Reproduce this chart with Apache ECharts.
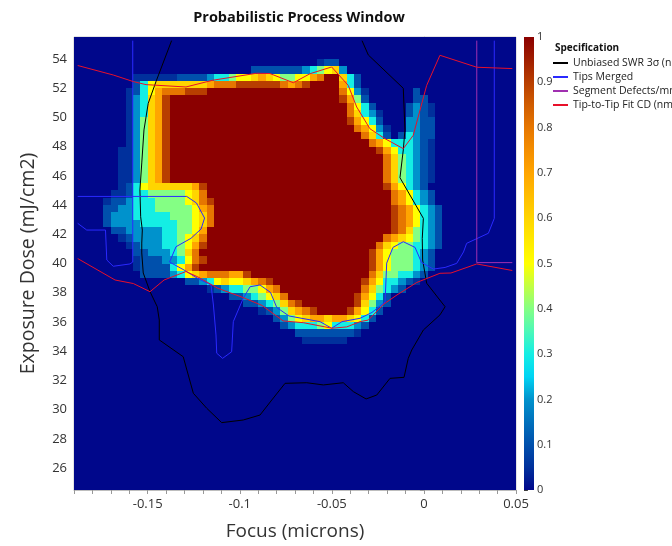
<!DOCTYPE html>
<html>
<head>
<meta charset="utf-8">
<script src="https://cdn.jsdelivr.net/npm/echarts@6/dist/echarts.min.js"></script>
<style>
html,body{margin:0;padding:0;background:#fff;}
#chart{width:672px;height:546px;}
</style>
</head>
<body>
<div id="chart"></div>
<script>
// ---- probability grid: 60 focus columns x 62 dose rows (top row first) ----
// column centres: -0.188 ... 0.048 microns, row centres: 55.25 ... 24.75 mJ/cm2
const focusFirst = -0.188, focusStep = 0.004;
const doseFirst = 55.25, doseStep = 0.5;
// level codes: '0' = 0, '.' = 0.05, '1'..'9' = 0.1..0.9, 'X' = 1
// each row is written in six groups of ten columns
const levelCode = {'0':0,'.':0.05,'1':0.1,'2':0.2,'3':0.3,'4':0.4,'5':0.5,'6':0.6,'7':0.7,'8':0.8,'9':0.9,'X':1};
const probRows = [
  "0000000000 0000000000 0000000000 0000000000 0000000000 0000000000",
  "0000000000 0000000000 0000000000 0000000000 0000000000 0000000000",
  "0000000000 0000000000 0000000000 0000000000 0000000000 0000000000",
  "0000000000 0000000000 0000000000 000.110000 0000000000 0000000000",
  "0000000000 0000000000 0000111111 1234562000 0000000000 0000000000",
  "00000000.. ....111123 3455676544 5578XX6310 0000000000 0000000000",
  "0000000013 5666666678 8899999987 89XXXX7310 0000000000 0000000000",
  "0000000.13 57888999XX XXXXXXXXXX XXXXXX852. 0000001000 0000000000",
  "0000000.23 679XXXXXXX XXXXXXXXXX XXXXXX9741 0000001100 0000000000",
  "0000000.23 679XXXXXXX XXXXXXXXXX XXXXXXX853 10000121.0 0000000000",
  "0000000.23 679XXXXXXX XXXXXXXXXX XXXXXXX863 2.000121.0 0000000000",
  "0000000.24 679XXXXXXX XXXXXXXXXX XXXXXXX975 3100022110 0000000000",
  "0000000.24 679XXXXXXX XXXXXXXXXX XXXXXXXX87 52.0022110 0000000000",
  "0000000.24 679XXXXXXX XXXXXXXXXX XXXXXXXXX8 6310132110 0000000000",
  "0000000.24 679XXXXXXX XXXXXXXXXX XXXXXXXXXX 87533321.0 0000000000",
  "000000..24 679XXXXXXX XXXXXXXXXX XXXXXXXXXX X9753321.0 0000000000",
  "000000..24 679XXXXXXX XXXXXXXXXX XXXXXXXXXX XX864321.0 0000000000",
  "000000..24 679XXXXXXX XXXXXXXXXX XXXXXXXXXX XX864321.0 0000000000",
  "000000..24 679XXXXXXX XXXXXXXXXX XXXXXXXXXX XX864321.0 0000000000",
  "000000..24 679XXXXXXX XXXXXXXXXX XXXXXXXXXX XX864321.0 0000000000",
  "000000.135 66666679XX XXXXXXXXXX XXXXXXXXXX XX97532100 0000000000",
  "00000..133 44444568XX XXXXXXXXXX XXXXXXXXXX XXX8753210 0000000000",
  "0000.11233 344445689X XXXXXXXXXX XXXXXXXXXX XXX8753210 0000000000",
  "0000112233 344444578X XXXXXXXXXX XXXXXXXXXX XXX9875321 0000000000",
  "0000122233 333444568X XXXXXXXXXX XXXXXXXXXX XXX9875321 0000000000",
  "0000122223 333344568X XXXXXXXXXX XXXXXXXXXX XXX9875321 0000000000",
  "0000011222 22334457XX XXXXXXXXXX XXXXXXXXXX XXX9864321 0000000000",
  "000000.122 22334568XX XXXXXXXXXX XXXXXXXXXX XX87654321 0000000000",
  "0000000.12 22334579XX XXXXXXXXXX XXXXXXXXXX X865443321 0000000000",
  "0000000011 2223468XXX XXXXXXXXXX XXXXXXXXXX 9754443210 0000000000",
  "00000000.1 11223589XX XXXXXXXXXX XXXXXXXXXX 9754443210 0000000000",
  "00000000.1 1113579XXX XXXXXXXXXX XXXXXXXXXX 9754443210 0000000000",
  "0000000001 1112356788 8779XXXXXX XXXXXXXXXX 8644332100 0000000000",
  "0000000000 0000011235 6556789XXX XXXXXXXXX9 753321.000 0000000000",
  "0000000000 00000000.1 23344578XX XXXXXXXXX8 6432100000 0000000000",
  "0000000000 0000000000 011234568X XXXXXXXX97 5310000000 0000000000",
  "0000000000 0000000000 0001123468 9XXXXXXX96 4210000000 0000000000",
  "0000000000 0000000000 00000.1246 789XXXX975 3100000000 0000000000",
  "0000000000 0000000000 0000000124 5677677653 1000000000 0000000000",
  "0000000000 0000000000 0000000012 3334533321 0000000000 0000000000",
  "0000000000 0000000000 0000000000 11111111.0 0000000000 0000000000",
  "0000000000 0000000000 0000000000 0......000 0000000000 0000000000",
  "0000000000 0000000000 0000000000 0000000000 0000000000 0000000000",
  "0000000000 0000000000 0000000000 0000000000 0000000000 0000000000",
  "0000000000 0000000000 0000000000 0000000000 0000000000 0000000000",
  "0000000000 0000000000 0000000000 0000000000 0000000000 0000000000",
  "0000000000 0000000000 0000000000 0000000000 0000000000 0000000000",
  "0000000000 0000000000 0000000000 0000000000 0000000000 0000000000",
  "0000000000 0000000000 0000000000 0000000000 0000000000 0000000000",
  "0000000000 0000000000 0000000000 0000000000 0000000000 0000000000",
  "0000000000 0000000000 0000000000 0000000000 0000000000 0000000000",
  "0000000000 0000000000 0000000000 0000000000 0000000000 0000000000",
  "0000000000 0000000000 0000000000 0000000000 0000000000 0000000000",
  "0000000000 0000000000 0000000000 0000000000 0000000000 0000000000",
  "0000000000 0000000000 0000000000 0000000000 0000000000 0000000000",
  "0000000000 0000000000 0000000000 0000000000 0000000000 0000000000",
  "0000000000 0000000000 0000000000 0000000000 0000000000 0000000000",
  "0000000000 0000000000 0000000000 0000000000 0000000000 0000000000",
  "0000000000 0000000000 0000000000 0000000000 0000000000 0000000000",
  "0000000000 0000000000 0000000000 0000000000 0000000000 0000000000",
  "0000000000 0000000000 0000000000 0000000000 0000000000 0000000000",
  "0000000000 0000000000 0000000000 0000000000 0000000000 0000000000"
];

// ---- specification contours (focus, dose) ----
const swrLine = [[-0.137,55.25],[-0.1455,52.44],[-0.1497,50.96],[-0.152,49.14],[-0.1532,46.88],[-0.1542,45.03],[-0.1538,43.2],[-0.1529,42.29],[-0.1532,41.4],[-0.1532,40.72],[-0.1524,39.35],[-0.1487,38.07],[-0.1448,37.04],[-0.1437,36.13],[-0.1437,34.77],[-0.1307,33.62],[-0.1252,31.12],[-0.1179,30.09],[-0.1098,29.11],[-0.0981,29.29],[-0.089,29.63],[-0.0826,30.66],[-0.0754,31.8],[-0.0636,31.84],[-0.0546,31.69],[-0.0438,31.84],[-0.0383,31.23],[-0.0314,30.73],[-0.0256,31.0],[-0.0184,32.14],[-0.0108,32.21],[-0.0085,33.51],[-0.0066,34.08],[-0.0003,35.45],[0.0087,36.48],[0.0115,37.04],[0.0015,38.65],[-0.0007,40.24],[-0.0009,41.72],[-0.0003,43.09],[-0.013,45.87],[-0.0112,47.77],[-0.0103,49.14],[-0.0112,51.99],[-0.0302,54.27],[-0.0336,55.25]];
const tipsMergedLeft = [[-0.1581,55.25],[-0.1581,40.1],[-0.1596,39.97],[-0.1687,39.81],[-0.1722,40.24],[-0.1729,42.29],[-0.1831,42.29],[-0.188,42.75]];
const tipsMergedMain = [[-0.188,44.59],[-0.1288,44.59],[-0.1235,44.14],[-0.1191,43.11],[-0.121,42.36],[-0.1265,41.72],[-0.1346,41.15],[-0.1381,40.1],[-0.1303,39.56],[-0.1227,38.97],[-0.1156,38.53],[-0.1143,37.16],[-0.1129,35.11],[-0.1125,33.86],[-0.1093,33.51],[-0.1044,33.96],[-0.1035,36.02],[-0.0981,37.62],[-0.0944,38.41],[-0.089,38.53],[-0.0833,38.02],[-0.0799,36.99],[-0.0733,36.41],[-0.0564,36.02],[-0.0501,35.57],[-0.0445,36.02],[-0.0347,36.25],[-0.0282,36.65],[-0.0211,37.37],[-0.0202,40.03],[-0.0168,41.1],[-0.0112,41.49],[-0.0048,41.1],[-0.0013,40.07],[0.0051,39.62],[0.0115,39.73],[0.0178,40.01],[0.0215,40.79],[0.0232,41.38],[0.035,42.07],[0.0382,43.09],[0.0382,55.25]];
const segmentLine = [[0.0287,55.25],[0.0287,40.06],[0.048,40.06]];
const tipToTipUpper = [[-0.188,53.55],[-0.1687,52.9],[-0.1578,52.45],[-0.1509,52.24],[-0.1292,52.08],[-0.1147,52.54],[-0.0908,53.02],[-0.0836,53.0],[-0.0709,52.37],[-0.0618,52.99],[-0.0501,53.45],[-0.0411,52.19],[-0.0365,50.71],[-0.0293,49.22],[-0.0211,48.54],[-0.0112,47.86],[-0.0058,48.77],[0.0015,52.19],[0.0087,54.25],[0.0287,53.43],[0.048,53.34]];
const tipToTipLower = [[-0.188,40.34],[-0.1677,38.87],[-0.1578,38.63],[-0.1487,38.07],[-0.1411,38.87],[-0.1292,39.45],[-0.1227,39.08],[-0.1118,38.3],[-0.0982,37.67],[-0.0879,37.13],[-0.0764,36.07],[-0.0655,35.95],[-0.0499,35.57],[-0.0419,35.66],[-0.0347,36.02],[-0.0302,36.13],[-0.0217,37.23],[-0.0146,37.85],[-0.0039,38.7],[0.0087,39.33],[0.0147,39.35],[0.0287,39.97],[0.048,39.52]];

// ---- axes ----
const focusLabels = [-0.15, -0.1, -0.05, 0, 0.05];
const doseLabels = [26, 28, 30, 32, 34, 36, 38, 40, 42, 44, 46, 48, 50, 52, 54];
const colorbarLabels = [0, 0.1, 0.2, 0.3, 0.4, 0.5, 0.6, 0.7, 0.8, 0.9, 1];

// ---- colour scale ----
const scaleStops = [0,0.05,0.1,0.15,0.2,0.25,0.3,0.35,0.4,0.45,0.5,0.55,0.6,0.65,0.7,0.75,0.8,0.85,0.9,0.95,1];
const scaleColors = ['#00078b','#00309c','#0050ac','#0070bc','#0092cc','#00d4f4','#14eee4','#4cf8b8','#84ff84','#c2ff44','#ffff00','#ffea00','#ffd500','#ffbd00','#ffa500','#f48e00','#e67600','#d05c00','#b83e00','#a01e00','#8b0000'];

const FONT = '"Open Sans", "Noto Sans", sans-serif';

const cells = [];
probRows.forEach((text, r) => {
  const row = text.replace(/ /g, '');
  for (let c = 0; c < row.length; c++) {
    cells.push([focusFirst + c * focusStep, doseFirst - r * doseStep, levelCode[row[c]]]);
  }
});

const focusTicks = [];
for (let k = -19; k <= 5; k++) focusTicks.push(k / 100);
const doseTicks = [];
for (let k = 49; k <= 111; k++) doseTicks.push(k / 2);
const colorbarMinorTicks = [];
for (let k = 0; k <= 50; k++) colorbarMinorTicks.push(k / 50);

const chart = echarts.init(document.getElementById('chart'), null, {renderer: 'canvas'});

function lineSeries(name, data, color) {
  return {
    type: 'line', name: name, data: data, xAxisIndex: 0, yAxisIndex: 0,
    showSymbol: false, symbol: 'none', silent: true, animation: false, clip: true, z: 5,
    lineStyle: {width: 1, color: color}, itemStyle: {color: color}
  };
}

chart.setOption({
  animation: false,
  textStyle: {fontFamily: FONT},
  title: {
    text: 'Probabilistic Process Window', left: 294, top: 5, textAlign: 'center',
    textStyle: {fontSize: 14.5, fontWeight: 'bold', color: '#111', fontFamily: FONT}
  },
  grid: [
    {left: 74, top: 37, width: 442, height: 453, show: true, borderColor: '#c8c8c8', borderWidth: 1, backgroundColor: 'transparent'},
    {left: 524, top: 37, width: 10, height: 453}
  ],
  xAxis: [
    {
      type: 'value', gridIndex: 0, min: -0.19, max: 0.05,
      name: 'Focus (microns)', nameLocation: 'middle', nameGap: 32,
      nameTextStyle: {fontSize: 19, color: '#333', fontFamily: FONT},
      splitLine: {show: false},
      axisLine: {show: true, lineStyle: {color: '#bdbdbd'}},
      axisTick: {show: true, customValues: focusTicks, length: 4, lineStyle: {color: '#999'}},
      axisLabel: {customValues: focusLabels, fontSize: 13, color: '#333', margin: 8, fontFamily: FONT,
        formatter: v => String(+(+v).toFixed(2))}
    },
    {type: 'value', gridIndex: 1, min: 0, max: 1, show: false}
  ],
  yAxis: [
    {
      type: 'value', gridIndex: 0, min: 24.5, max: 55.5,
      name: 'Exposure Dose (mJ/cm2)', nameLocation: 'middle', nameGap: 36,
      nameTextStyle: {fontSize: 19.5, color: '#333', fontFamily: FONT},
      splitLine: {show: false},
      axisLine: {show: true, lineStyle: {color: '#bdbdbd'}},
      axisTick: {show: true, customValues: doseTicks, length: 4, lineStyle: {color: '#999'}},
      axisLabel: {customValues: doseLabels, fontSize: 13, color: '#333', margin: 7, fontFamily: FONT}
    },
    {
      type: 'value', gridIndex: 1, min: 0, max: 1, position: 'right',
      splitLine: {show: false}, axisLine: {show: false},
      axisTick: {show: true, customValues: colorbarLabels, length: 4, lineStyle: {color: '#555'}},
      axisLabel: {customValues: colorbarLabels, fontSize: 11, color: '#333', margin: 3, fontFamily: FONT,
        formatter: v => String(+(+v).toFixed(1))}
    },
    {
      type: 'value', gridIndex: 1, min: 0, max: 1, position: 'left',
      splitLine: {show: false}, axisLine: {show: false}, axisLabel: {show: false},
      axisTick: {show: true, inside: true, customValues: colorbarMinorTicks, length: 3,
        lineStyle: {color: 'rgba(40,40,40,0.55)'}}
    }
  ],
  visualMap: {
    type: 'continuous', show: false, min: 0, max: 1, dimension: 2, seriesIndex: 0,
    inRange: {color: scaleColors}
  },
  legend: {
    orient: 'vertical', left: 548, top: 51, itemGap: 0, itemWidth: 15, itemHeight: 2,
    icon: 'rect', selectedMode: false,
    textStyle: {fontSize: 10.5, color: '#222', fontFamily: FONT, lineHeight: 14},
    data: ['Unbiased SWR 3σ (nm)', 'Tips Merged', 'Segment Defects/mm', 'Tip-to-Tip Fit CD (nm)']
  },
  graphic: [{
    type: 'text', left: 555, top: 43,
    style: {text: 'Specification', font: 'bold 10px ' + FONT, fill: '#111'}
  }],
  series: [
    {
      type: 'custom', xAxisIndex: 0, yAxisIndex: 0, data: cells, silent: true, z: 2,
      encode: {x: 0, y: 1},
      renderItem: function (params, api) {
        const x = api.value(0), y = api.value(1);
        const a = api.coord([x - focusStep / 2, y + doseStep / 2]);
        const b = api.coord([x + focusStep / 2, y - doseStep / 2]);
        const x0 = Math.round(a[0]), y0 = Math.round(a[1]);
        return {
          type: 'rect',
          shape: {x: x0, y: y0, width: Math.round(b[0]) - x0, height: Math.round(b[1]) - y0},
          style: {fill: api.visual('color')}
        };
      }
    },
    {
      type: 'custom', xAxisIndex: 1, yAxisIndex: 1, data: [[0, 0]], silent: true, z: 1,
      renderItem: function (params, api) {
        const a = api.coord([0, 1]), b = api.coord([1, 0]);
        const stops = scaleStops.map((s, i) => ({offset: s, color: scaleColors[i]}));
        return {
          type: 'rect',
          shape: {x: a[0], y: a[1], width: b[0] - a[0], height: b[1] - a[1]},
          style: {fill: new echarts.graphic.LinearGradient(0, 1, 0, 0, stops)}
        };
      }
    },
    lineSeries('Unbiased SWR 3σ (nm)', swrLine, '#000000'),
    lineSeries('Tips Merged', tipsMergedLeft, '#2a2aff'),
    lineSeries('Tips Merged', tipsMergedMain, '#2a2aff'),
    lineSeries('Segment Defects/mm', segmentLine, '#a030b0'),
    lineSeries('Tip-to-Tip Fit CD (nm)', tipToTipUpper, '#e8102a'),
    lineSeries('Tip-to-Tip Fit CD (nm)', tipToTipLower, '#e8102a')
  ]
});
</script>
</body>
</html>
